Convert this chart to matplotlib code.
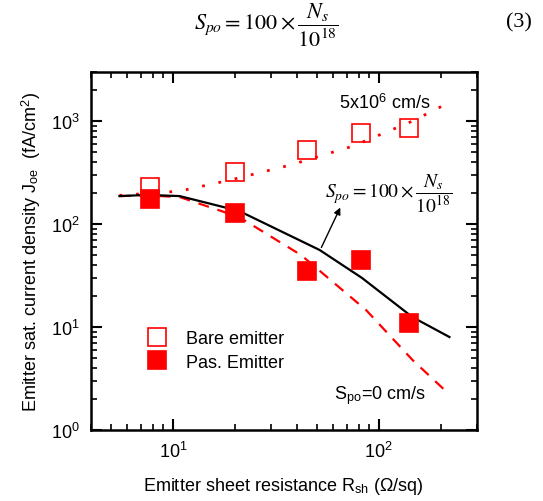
import math
import matplotlib
matplotlib.use("Agg")
import matplotlib.pyplot as plt
from matplotlib.ticker import LogLocator, FuncFormatter, NullFormatter

plt.rcParams['font.family'] = ['Liberation Sans', 'DejaVu Sans']
plt.rcParams['mathtext.fontset'] = 'stix'

# measured emitter saturation current vs sheet resistance
rsh_meas = [7.7, 20, 45, 82, 141]
joe_bare = [230, 320, 525, 765, 855]
joe_pas = [175, 128, 35, 45, 11]

# simulated curves
rsh_bare_sim = [5.5, 10.8, 19, 37, 75, 146, 221]
joe_bare_sim = [190, 209, 268, 373, 572, 1000, 1520]

rsh_spo_sim = [5.5, 7.5, 10.8, 21, 51.7, 83, 146, 221]
joe_spo_sim = [187, 192, 187, 134, 56, 30, 12.5, 8.0]

rsh_zero_sim = [5.5, 7.5, 10.8, 21, 42, 87, 146, 214]
joe_zero_sim = [187, 190, 183, 117, 50, 14.6, 4.8, 2.35]

red = '#ff0000'

fig = plt.figure(figsize=(5.43, 5.02), dpi=100)
ax = fig.add_axes([0.1676, 0.1414, 0.7104, 0.7132])

ax.plot(rsh_bare_sim, joe_bare_sim, color=red, lw=2, ls=(0, (1, 5)))
ax.plot(rsh_zero_sim, joe_zero_sim, color=red, lw=1.6, ls=(0, (5, 4)))
ax.plot(rsh_spo_sim, joe_spo_sim, color='black', lw=1.6)

ax.plot(rsh_meas, joe_bare, ls='none', marker='s', ms=13, mfc='none',
        mec=red, mew=1.2, label='Bare emitter')
ax.plot(rsh_meas, joe_pas, ls='none', marker='s', ms=13, mfc=red,
        mec=red, mew=1.2, label='Pas. Emitter')

ax.set_xscale('log')
ax.set_yscale('log')
ax.set_xlim(4, 300)
ax.set_ylim(1, 3000)

fmt = FuncFormatter(lambda v, p: r'$\mathregular{10^{%d}}$' % round(math.log10(v)))
ax.xaxis.set_major_formatter(fmt)
ax.yaxis.set_major_formatter(fmt)
ax.xaxis.set_minor_formatter(NullFormatter())
ax.yaxis.set_minor_formatter(NullFormatter())
ax.xaxis.set_major_locator(LogLocator(base=10, numticks=10))
ax.yaxis.set_major_locator(LogLocator(base=10, numticks=10))
ax.xaxis.set_minor_locator(LogLocator(base=10, subs=range(2, 10), numticks=10))
ax.yaxis.set_minor_locator(LogLocator(base=10, subs=range(2, 10), numticks=10))

ax.tick_params(which='both', direction='in', top=True, right=True, labelsize=13)
ax.tick_params(which='major', length=8, width=1.5, pad=8)
ax.tick_params(which='minor', length=4, width=1.2)
for s in ax.spines.values():
    s.set_linewidth(1.8)

ax.set_xlabel(r'Emitter sheet resistance R$_{\mathregular{sh}}$ ($\mathregular{\Omega}$/sq)',
              fontsize=13, labelpad=10)
ax.set_ylabel(r'Emitter sat. current density J$_{\mathregular{oe}}$  (fA/cm$^{\mathregular{2}}$)',
              fontsize=13, labelpad=6)

ax.legend(loc='lower left', bbox_to_anchor=(0.1, 0.12), frameon=False,
          fontsize=13, handletextpad=1.0, labelspacing=0.35, handlelength=1.2)

ax.text(107, 1520, r'5x10$^{\mathregular{6}}$ cm/s', fontsize=13, ha='center', va='center')
ax.text(102, 2.2, r'S$_{\mathregular{po}}$=0 cm/s', fontsize=13, ha='center', va='center')

ax.text(112, 200, r'$S_{po} = 100 \times \dfrac{N_s}{10^{18}}$',
        fontsize=14, ha='center', va='center')
ax.annotate('', xy=(66, 153), xytext=(52, 56),
            arrowprops=dict(arrowstyle='-|>', color='black', lw=1, mutation_scale=10))

fig.text(0.49, 0.95, r'$S_{po} = 100 \times \dfrac{N_s}{10^{18}}$', fontsize=16,
         ha='center', va='center')
fig.text(0.955, 0.955, '(3)', fontsize=16, ha='center', va='center',
         family='Liberation Serif')

fig.savefig('out.png', dpi=100)
